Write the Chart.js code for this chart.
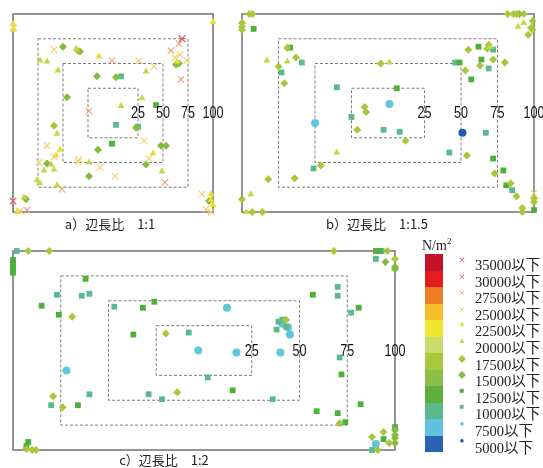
<!DOCTYPE html>
<html>
<head>
<meta charset="utf-8">
<script src="https://cdn.jsdelivr.net/npm/chart.js@4/dist/chart.umd.min.js"></script>
<style>
  body { margin: 0; width: 543px; height: 468px; background: #fff; position: relative; overflow: hidden;
         font-family: "Noto Sans CJK JP", sans-serif; }
  canvas { position: absolute; }
  .caption { position: absolute; font-size: 13px; line-height: 18px; color: #222; transform: translateX(-50%); white-space: nowrap; }
  .unit { position: absolute; left: 422px; top: 236px; font: 14px "Liberation Serif", serif; color: #222; }
  .unit sup { font-size: 9px; }
  .bar { position: absolute; left: 425px; width: 18px; }
  .row { position: absolute; left: 455px; height: 16px; line-height: 16px; white-space: nowrap;
         font: 14.5px "Liberation Serif", "Noto Sans CJK JP", serif; color: #222; }
  .row .mk { display: inline-block; width: 14px; text-align: center; font-size: 8px; vertical-align: top; }
  .row .mk.x { font-size: 12px; }
  .row .tx { margin-left: 6px; }
</style>
</head>
<body>
<canvas id="panelA"></canvas>
<canvas id="panelB"></canvas>
<canvas id="panelC"></canvas>
<div class="caption" style="left:110px; top:215px">a）辺長比　1:1</div>
<div class="caption" style="left:377px; top:215px">b）辺長比　1:1.5</div>
<div class="caption" style="left:164px; top:451px">c）辺長比　1:2</div>
<div class="unit">N/m<sup>2</sup></div>
<div id="legend"></div>

<script>
// === 凡例の区分 (N/m2) ===
const levels = [35000, 30000, 27500, 25000, 22500, 20000, 17500, 15000, 12500, 10000, 7500, 5000];
const barColors = ["#c4122a", "#e51c1c", "#ef7d22", "#f6bf2a", "#efe632", "#cbdc6c",
                   "#a9c93a", "#8bbf45", "#5faf3d", "#5db98c", "#5ec3db", "#2862b0"];
const markerColors = ["#d8305a", "#e05060", "#f0a070", "#f2cf6a", "#e6e02a", "#c2d84a",
                      "#a6c83a", "#84bc3e", "#4fae3c", "#5cb98e", "#62c6da", "#1f5aa8"];
const markerStyles = ["crossRot", "crossRot", "crossRot", "crossRot", "triangle", "triangle",
                      "rectRot", "rectRot", "rect", "rect", "circle", "circle"];
const markerGlyphs = ["×", "×", "×", "×", "▲", "▲", "◆", "◆", "■", "■", "●", "●"];

// === 枠 (辺長に対する%) ===
const frameLevels = [25, 50, 75, 100];

// === 各点 [x%, y%, 区分] ===
const pointsA = [
  [-100, 90, 22500], [-99, 86, 25000], [-100, 84, 22500], [100, 92, 22500],
  [69, 75, 30000], [58, 63, 27500], [66, 70, 27500], [67, 59, 25000], [62, 56, 25000],
  [64, 52, 22500], [63, 49, 15000], [66, 50, 15000], [68, 34, 27500], [74, 53, 25000],
  [-59, 64, 25000], [-50, 67, 15000], [-37, 65, 20000], [-33, 62, 15000], [-35, 63, 17500],
  [-73, 53, 20000], [-66, 52, 20000], [-14, 57, 22500], [-1, 53, 27500], [26, 53, 25000],
  [-55, 43, 20000], [-16, 37, 15000], [3, 36, 15000], [8, 37, 10000], [33, 42, 20000],
  [41, 47, 25000], [-46, 16, 15000], [-24, 2, 27500], [8, 7, 20000], [29, 15, 20000],
  [43, 8, 12500], [3, -12, 10000], [23, -15, 15000], [25, -14, 10000], [-59, -13, 17500],
  [-56, -21, 20000], [-1, -31, 12500], [-15, -37, 15000], [31, -28, 25000], [48, -33, 15000],
  [53, -33, 15000], [40, -41, 22500], [-53, -37, 22500], [-66, -33, 25000], [-57, -43, 22500],
  [-59, -44, 25000], [-66, -51, 15000], [-62, -52, 20000], [-59, -57, 20000], [-69, -58, 20000],
  [-74, -50, 25000], [-34, -47, 25000], [-35, -49, 25000], [-24, -50, 20000], [33, -52, 15000],
  [36, -46, 25000], [49, -59, 20000], [52, -70, 27500], [-13, -55, 25000], [-24, -64, 15000],
  [2, -64, 25000], [-76, -68, 20000], [-73, -71, 20000], [-56, -73, 20000], [-51, -77, 27500],
  [-100, -89, 30000], [-87, -87, 15000], [-89, -85, 20000], [-93, -99, 25000], [-96, -100, 22500],
  [-86, -98, 27500], [89, -82, 25000], [98, -82, 22500], [98, -88, 22500], [96, -89, 15000],
  [93, -97, 25000], [98, -100, 25000], [100, -93, 22500]
];
const pointsB = [
  [-95, 100, 17500], [-93, 100, 17500], [-100, 91, 17500], [-100, 87, 17500], [-100, 84, 17500],
  [-92, 85, 12500], [82, 100, 17500], [86, 100, 17500], [88, 100, 17500], [90, 100, 15000],
  [93, 100, 17500], [89, 87, 20000], [93, 91, 20000], [99, 93, 17500], [98, 86, 17500],
  [96, 79, 17500], [99, 84, 17500],
  [-69, 66, 17500], [-67, 66, 12500], [-63, 56, 17500], [-59, 51, 10000], [-83, 53, 20000],
  [-69, 52, 20000], [-75, 47, 17500], [-73, 41, 10000], [-71, 30, 17500],
  [-5, 50, 17500], [1, 51, 20000], [46, 51, 10000], [49, 51, 12500],
  [55, 64, 17500], [62, 67, 12500], [68, 65, 17500], [69, 69, 17500], [70, 67, 20000],
  [72, 64, 10000], [64, 54, 12500], [63, 48, 17500], [69, 45, 10000], [72, 54, 17500],
  [80, 51, 17500], [53, 43, 17500], [57, 34, 12500],
  [-35, 26, 10000], [6, 25, 12500], [1, 9, 7500], [-16, 6, 17500], [-15, 1, 17500],
  [-25, -4, 10000], [-50, -10, 7500], [-21, -17, 17500], [-3, -17, 10000], [8, -19, 10000],
  [12, -28, 17500], [51, -20, 5000], [67, -20, 10000], [42, -40, 10000], [54, -43, 17500],
  [-35, -40, 20000], [-51, -56, 10000], [-46, -53, 17500],
  [72, -46, 12500], [79, -58, 12500], [73, -61, 17500], [81, -73, 12500], [84, -71, 17500],
  [85, -78, 10000], [88, -84, 17500], [100, -86, 17500], [100, -90, 17500], [100, -81, 25000],
  [92, -96, 17500], [92, -100, 17500], [100, -98, 12500],
  [-82, -67, 17500], [-64, -66, 17500], [-94, -82, 20000], [-100, -87, 17500],
  [-97, -100, 20000], [-93, -100, 17500], [-86, -100, 17500]
];
const pointsC = [
  [-98, 100, 10000], [-92, 100, 17500], [-81, 100, 17500], [-100, 91, 12500], [-100, 88, 12500],
  [-100, 84, 12500], [-100, 81, 12500], [-100, 78, 12500],
  [68, 100, 17500], [90, 100, 12500], [92, 100, 12500], [93, 100, 10000], [96, 100, 17500],
  [90, 92, 10000], [95, 89, 15000], [100, 92, 17500], [100, 84, 15000], [100, 82, 15000],
  [-62, 72, 12500], [-77, 56, 10000], [-64, 55, 10000], [-60, 57, 10000], [-85, 45, 12500],
  [-76, 36, 12500], [-69, 34, 17500], [-47, 44, 10000], [-32, 43, 12500], [-26, 49, 12500],
  [-37, 16, 12500], [-20, 17, 17500], [-8, 18, 10000], [12, 43, 7500], [-3, 0, 7500], [17, -2, 7500],
  [39, 29, 10000], [41, 31, 10000], [43, 31, 17500], [38, 21, 10000], [43, 24, 10000],
  [41, 27, 7500], [44, 23, 7500], [45, 16, 7500], [40, -2, 7500], [57, 56, 12500],
  [70, 64, 10000], [70, 55, 10000], [77, 38, 10000], [81, 43, 12500], [71, -7, 10000],
  [72, -24, 12500], [82, -54, 12500], [59, -61, 12500], [70, -63, 12500], [71, -73, 17500],
  [74, -72, 12500],
  [-72, -20, 7500], [2, -27, 10000], [-29, -44, 10000], [-22, -49, 10000], [-14, -42, 17500],
  [15, -40, 12500], [36, -49, 10000], [-79, -46, 17500], [-80, -55, 10000], [-74, -57, 17500],
  [-66, -55, 12500], [-60, -44, 10000],
  [-92, -92, 12500], [-93, -96, 12500], [-93, -99, 17500], [-90, -100, 17500], [-88, -100, 17500],
  [88, -87, 17500], [94, -89, 12500], [94, -82, 17500], [100, -77, 12500], [100, -80, 15000],
  [100, -85, 15000], [100, -88, 15000], [100, -93, 15000], [97, -93, 17500], [90, -94, 7500],
  [88, -100, 10000], [91, -100, 17500]
];

const MARGIN = 11;

// 枠と目盛りの数字を描くプラグイン
const framePlugin = {
    id: "frames",
    beforeDatasetsDraw(chart) {
        const { ctx, scales: { x, y } } = chart;
        ctx.save();
        frameLevels.forEach(f => {
            const l = x.getPixelForValue(-f), r = x.getPixelForValue(f);
            const t = y.getPixelForValue(f), b = y.getPixelForValue(-f);
            if (f === 100) {
                ctx.setLineDash([]);
                ctx.strokeStyle = "#7a7a7a";
                ctx.lineWidth = 1.6;
            } else {
                ctx.setLineDash([3, 2]);
                ctx.strokeStyle = "#6e6e6e";
                ctx.lineWidth = 0.9;
            }
            ctx.strokeRect(l, t, r - l, b - t);
        });
        ctx.restore();
    },
    afterDatasetsDraw(chart) {
        const { ctx, scales: { x, y } } = chart;
        ctx.save();
        ctx.font = '16px "Liberation Sans", "DejaVu Sans", sans-serif';
        ctx.fillStyle = "#111";
        ctx.textAlign = "center";
        ctx.textBaseline = "middle";
        frameLevels.forEach(f => {
            const s = String(f);
            // 細長い数字に見せるため幅を詰める
            ctx.fillText(s, x.getPixelForValue(f), y.getPixelForValue(0) + 1, s.length * 7);
        });
        ctx.restore();
    }
};

function makePanel(id, box, points) {
    const canvas = document.getElementById(id);
    canvas.width = box.w + 2 * MARGIN;
    canvas.height = box.h + 2 * MARGIN;
    canvas.style.left = (box.x - MARGIN) + "px";
    canvas.style.top = (box.y - MARGIN) + "px";

    const datasets = levels.map((lv, i) => ({
        label: lv + "以下",
        data: points.filter(p => p[2] === lv).map(p => ({ x: p[0], y: p[1] })),
        pointStyle: markerStyles[i],
        pointRadius: markerStyles[i] === "rect" ? 4.1 : markerStyles[i] === "crossRot" ? 4.6 : 4,
        backgroundColor: markerColors[i],
        borderColor: markerColors[i],
        borderWidth: markerStyles[i] === "crossRot" ? 1.1 : 0,
        clip: false
    })).filter(d => d.data.length);

    new Chart(canvas, {
        type: "scatter",
        data: { datasets },
        options: {
            responsive: false,
            animation: false,
            layout: { padding: MARGIN },
            plugins: { legend: { display: false }, tooltip: { enabled: false } },
            scales: {
                x: { type: "linear", min: -100, max: 100, display: false },
                y: { type: "linear", min: -100, max: 100, display: false }
            }
        },
        plugins: [framePlugin]
    });
}

makePanel("panelA", { x: 12.5, y: 14, w: 200, h: 198.5 }, pointsA);
makePanel("panelB", { x: 241.5, y: 14, w: 292.5, h: 198 }, pointsB);
makePanel("panelC", { x: 13.3, y: 251, w: 382.7, h: 199 }, pointsC);

// === 凡例 ===
const legend = document.getElementById("legend");
levels.forEach((lv, i) => {
    const bar = document.createElement("div");
    bar.className = "bar";
    bar.style.top = (254 + i * 16.5) + "px";
    bar.style.height = "16.6px";
    bar.style.background = barColors[i];
    legend.appendChild(bar);

    const row = document.createElement("div");
    row.className = "row";
    row.style.top = (253 + i * 16.6) + "px";
    const cls = markerGlyphs[i] === "×" ? "mk x" : "mk";
    row.innerHTML = '<span class="' + cls + '" style="color:' + markerColors[i] + '">' + markerGlyphs[i] +
        '</span><span class="tx">' + lv + "以下</span>";
    legend.appendChild(row);
});
</script>
</body>
</html>
